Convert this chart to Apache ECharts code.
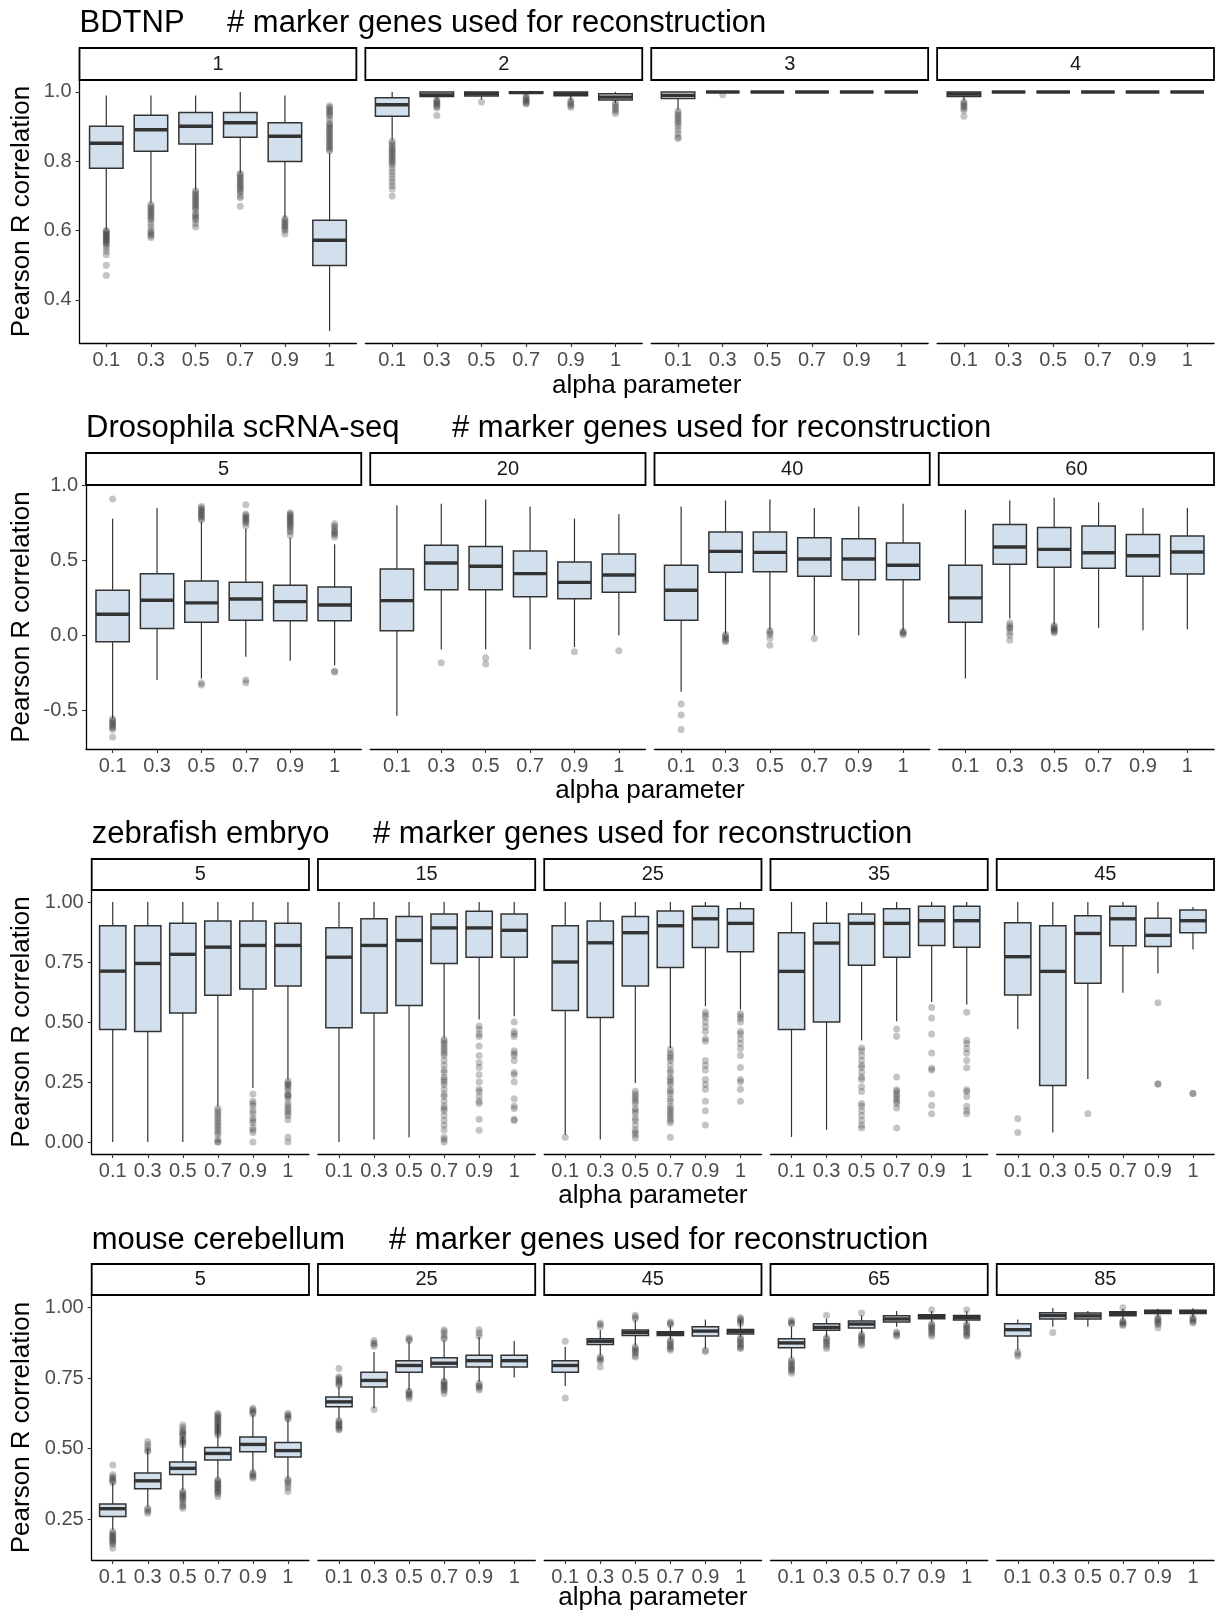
<!DOCTYPE html>
<html>
<head>
<meta charset="utf-8">
<script src="https://cdn.jsdelivr.net/npm/echarts@6.0.0/dist/echarts.min.js"></script>
<style>
  html, body { margin: 0; padding: 0; background: #ffffff; }
  #chart { width: 1215px; height: 1614px; }
</style>
</head>
<body>
<div id="chart"></div>
<script>
// alpha values on every x axis
const ALPHA = ['0.1', '0.3', '0.5', '0.7', '0.9', '1'];

// Each box: [lower whisker, Q1, median, Q3, upper whisker], one per alpha value.
// Outliers: one list of values per alpha value.

// ---- BDTNP ----
const bdtnpPanels = ['1', '2', '3', '4'];
const bdtnpTicks = [0.4, 0.6, 0.8, 1.0];
const bdtnpBoxes = [
  [[0.603, 0.780, 0.852, 0.901, 0.990], [0.680, 0.829, 0.891, 0.933, 0.990], [0.718, 0.850, 0.901, 0.941, 0.990],
   [0.766, 0.869, 0.911, 0.941, 1.000], [0.637, 0.799, 0.872, 0.911, 0.990], [0.310, 0.499, 0.572, 0.630, 0.824]],
  [[0.862, 0.930, 0.963, 0.983, 1.000], [0.980, 0.987, 0.991, 1.000, 1.000], [0.978, 0.988, 0.995, 1.000, 1.000],
   [0.990, 0.996, 0.998, 1.000, 1.000], [0.975, 0.989, 0.994, 1.000, 1.000], [0.968, 0.977, 0.985, 0.995, 1.000]],
  [[0.949, 0.981, 0.990, 1.000, 1.000], [1, 1, 1, 1, 1], [1, 1, 1, 1, 1],
   [1, 1, 1, 1, 1], [1, 1, 1, 1, 1], [1, 1, 1, 1, 1]],
  [[0.975, 0.987, 0.994, 1.000, 1.000], [1, 1, 1, 1, 1], [1, 1, 1, 1, 1],
   [1, 1, 1, 1, 1], [1, 1, 1, 1, 1], [1, 1, 1, 1, 1]]
];
const bdtnpOutliers = [
  [[0.600, 0.597, 0.594, 0.590, 0.587, 0.583, 0.580, 0.577, 0.573, 0.570, 0.566, 0.562, 0.558, 0.550, 0.540, 0.530, 0.500, 0.470],
   [0.675, 0.670, 0.665, 0.660, 0.655, 0.650, 0.645, 0.640, 0.635, 0.630, 0.620, 0.610, 0.600, 0.595, 0.590, 0.585, 0.580],
   [0.715, 0.710, 0.705, 0.700, 0.695, 0.690, 0.685, 0.680, 0.675, 0.670, 0.665, 0.660, 0.650, 0.645, 0.640, 0.635, 0.630, 0.620, 0.610],
   [0.765, 0.760, 0.755, 0.750, 0.745, 0.740, 0.735, 0.730, 0.725, 0.720, 0.715, 0.710, 0.700, 0.695, 0.670],
   [0.635, 0.630, 0.625, 0.620, 0.615, 0.610, 0.605, 0.600, 0.590],
   [0.960, 0.955, 0.950, 0.945, 0.940, 0.935, 0.930, 0.920, 0.910, 0.905, 0.900, 0.895, 0.890, 0.885, 0.880, 0.875, 0.870, 0.865, 0.860, 0.855, 0.850, 0.845, 0.840, 0.835, 0.830]],
  [[0.858, 0.852, 0.846, 0.840, 0.835, 0.830, 0.825, 0.820, 0.815, 0.810, 0.805, 0.800, 0.795, 0.790, 0.780, 0.770, 0.760, 0.750, 0.740, 0.730, 0.720, 0.700],
   [0.978, 0.974, 0.970, 0.966, 0.962, 0.958, 0.954, 0.932],
   [0.971],
   [0.988, 0.984, 0.980, 0.976, 0.972, 0.968, 0.965],
   [0.975, 0.970, 0.965, 0.960, 0.956],
   [0.968, 0.962, 0.956, 0.950, 0.944, 0.938]],
  [[0.944, 0.938, 0.932, 0.926, 0.920, 0.914, 0.908, 0.900, 0.890, 0.880, 0.870, 0.866],
   [0.992], [], [], [], []],
  [[0.972, 0.967, 0.962, 0.957, 0.952, 0.947, 0.930],
   [], [], [], [], []]
];

// ---- Drosophila scRNA-seq ----
const drosoPanels = ['5', '20', '40', '60'];
const drosoTicks = [-0.5, 0.0, 0.5, 1.0];
const drosoBoxes = [
  [[-0.556, -0.044, 0.140, 0.300, 0.778], [-0.300, 0.044, 0.233, 0.411, 0.849], [-0.289, 0.087, 0.216, 0.362, 0.756],
   [-0.144, 0.100, 0.242, 0.353, 0.711], [-0.171, 0.096, 0.224, 0.333, 0.651], [-0.200, 0.096, 0.202, 0.322, 0.607]],
  [[-0.538, 0.029, 0.231, 0.442, 0.867], [-0.096, 0.304, 0.482, 0.600, 0.878], [-0.096, 0.304, 0.460, 0.593, 0.907],
   [-0.096, 0.256, 0.411, 0.562, 0.860], [-0.080, 0.244, 0.353, 0.489, 0.778], [0.000, 0.287, 0.402, 0.542, 0.807]],
  [[-0.378, 0.100, 0.300, 0.467, 0.860], [0.011, 0.420, 0.560, 0.689, 0.900], [0.038, 0.424, 0.553, 0.689, 0.907],
   [0.000, 0.393, 0.509, 0.651, 0.849], [0.000, 0.371, 0.509, 0.644, 0.860], [0.033, 0.371, 0.467, 0.616, 0.878]],
  [[-0.289, 0.087, 0.249, 0.467, 0.838], [0.111, 0.473, 0.589, 0.740, 0.900], [0.073, 0.453, 0.573, 0.720, 0.918],
   [0.049, 0.447, 0.551, 0.729, 0.887], [0.033, 0.393, 0.531, 0.673, 0.849], [0.040, 0.409, 0.556, 0.662, 0.849]]
];
const drosoOutliers = [
  [[0.909, -0.560, -0.570, -0.580, -0.590, -0.600, -0.610, -0.620, -0.630, -0.680],
   [],
   [0.860, 0.850, 0.840, 0.830, 0.820, 0.810, 0.800, 0.790, 0.780, 0.770, -0.320, -0.333],
   [0.871, 0.810, 0.800, 0.790, 0.780, 0.770, 0.760, 0.750, 0.730, -0.300, -0.318],
   [0.818, 0.810, 0.800, 0.790, 0.780, 0.770, 0.760, 0.750, 0.740, 0.730, 0.720, 0.700, 0.690, 0.667],
   [0.744, 0.730, 0.720, 0.700, 0.690, 0.680, 0.670, 0.656, -0.240, -0.245]],
  [[], [-0.184], [-0.151, -0.193], [], [-0.111], [-0.104]],
  [[-0.460, -0.533, -0.629],
   [0.005, -0.005, -0.015, -0.025, -0.035, -0.044],
   [0.030, 0.020, 0.005, -0.020, -0.067],
   [-0.022],
   [],
   [0.025, 0.020, 0.012, 0.003]],
  [[],
   [0.082, 0.065, 0.050, 0.044, 0.020, 0.000, -0.033],
   [0.064, 0.055, 0.048, 0.040, 0.032, 0.025, 0.016],
   [], [], []]
];

// ---- zebrafish embryo ----
const zebraPanels = ['5', '15', '25', '35', '45'];
const zebraTicks = [0.0, 0.25, 0.5, 0.75, 1.0];
const zebraBoxes = [
  [[0.000, 0.469, 0.712, 0.901, 1.000], [0.000, 0.460, 0.744, 0.901, 1.000], [0.000, 0.538, 0.782, 0.911, 1.000],
   [0.149, 0.611, 0.812, 0.921, 1.000], [0.225, 0.638, 0.819, 0.921, 1.000], [0.260, 0.650, 0.819, 0.911, 1.000]],
  [[0.000, 0.476, 0.770, 0.893, 1.000], [0.010, 0.538, 0.819, 0.930, 1.000], [0.020, 0.569, 0.840, 0.940, 1.000],
   [0.434, 0.744, 0.892, 0.950, 1.000], [0.510, 0.770, 0.892, 0.961, 1.000], [0.524, 0.770, 0.882, 0.950, 1.000]],
  [[0.030, 0.548, 0.750, 0.901, 1.000], [0.010, 0.519, 0.830, 0.921, 1.000], [0.246, 0.650, 0.872, 0.940, 1.000],
   [0.392, 0.727, 0.901, 0.962, 1.000], [0.566, 0.810, 0.930, 0.982, 1.000], [0.552, 0.793, 0.911, 0.972, 1.000]],
  [[0.021, 0.469, 0.711, 0.872, 1.000], [0.051, 0.500, 0.829, 0.911, 1.000], [0.423, 0.736, 0.911, 0.950, 1.000],
   [0.503, 0.770, 0.911, 0.972, 1.000], [0.583, 0.819, 0.922, 0.982, 1.000], [0.573, 0.811, 0.922, 0.982, 1.000]],
  [[0.471, 0.613, 0.772, 0.914, 1.000], [0.040, 0.235, 0.711, 0.901, 1.000], [0.263, 0.661, 0.869, 0.943, 1.000],
   [0.622, 0.818, 0.930, 0.982, 1.000], [0.702, 0.815, 0.861, 0.932, 1.000], [0.802, 0.872, 0.922, 0.967, 0.979]]
];
const zebraOutliers = [
  [[], [], [],
   [0.140, 0.130, 0.120, 0.110, 0.100, 0.090, 0.080, 0.070, 0.060, 0.050, 0.040, 0.030, 0.010, 0.000, 0.000],
   [0.200, 0.170, 0.160, 0.150, 0.130, 0.120, 0.100, 0.090, 0.080, 0.060, 0.050, 0.040, 0.000],
   [0.253, 0.245, 0.240, 0.235, 0.225, 0.215, 0.200, 0.195, 0.190, 0.180, 0.160, 0.150, 0.140, 0.130, 0.120, 0.110, 0.093, 0.020, 0.000]],
  [[], [], [],
   [0.427, 0.420, 0.410, 0.400, 0.390, 0.380, 0.370, 0.360, 0.340, 0.320, 0.300, 0.290, 0.270, 0.260, 0.250, 0.240, 0.220, 0.200, 0.190, 0.170, 0.150, 0.140, 0.130, 0.110, 0.090, 0.070, 0.050, 0.020, 0.010, 0.000],
   [0.483, 0.470, 0.450, 0.440, 0.400, 0.360, 0.330, 0.310, 0.280, 0.250, 0.220, 0.210, 0.190, 0.170, 0.160, 0.095, 0.049],
   [0.500, 0.460, 0.450, 0.440, 0.380, 0.370, 0.360, 0.340, 0.290, 0.280, 0.250, 0.180, 0.150, 0.140, 0.095, 0.090]],
  [[0.020], [],
   [0.211, 0.200, 0.190, 0.180, 0.170, 0.160, 0.140, 0.130, 0.120, 0.100, 0.090, 0.070, 0.050, 0.040, 0.030, 0.017],
   [0.385, 0.370, 0.360, 0.350, 0.340, 0.320, 0.300, 0.290, 0.270, 0.260, 0.250, 0.240, 0.220, 0.210, 0.200, 0.180, 0.170, 0.150, 0.140, 0.130, 0.120, 0.110, 0.100, 0.090, 0.080, 0.020],
   [0.542, 0.530, 0.520, 0.500, 0.480, 0.460, 0.430, 0.420, 0.340, 0.320, 0.300, 0.260, 0.240, 0.220, 0.170, 0.130, 0.071],
   [0.535, 0.525, 0.515, 0.500, 0.460, 0.450, 0.430, 0.410, 0.390, 0.360, 0.310, 0.260, 0.250, 0.220, 0.170]],
  [[], [],
   [0.392, 0.380, 0.360, 0.340, 0.320, 0.310, 0.290, 0.270, 0.260, 0.230, 0.210, 0.160, 0.150, 0.130, 0.110, 0.090, 0.070, 0.058],
   [0.471, 0.441, 0.271, 0.218, 0.210, 0.200, 0.190, 0.180, 0.170, 0.160, 0.142, 0.058],
   [0.560, 0.517, 0.450, 0.371, 0.307, 0.300, 0.200, 0.152, 0.118],
   [0.541, 0.424, 0.410, 0.390, 0.370, 0.340, 0.309, 0.218, 0.210, 0.190, 0.149, 0.130, 0.118]],
  [[0.097, 0.040], [], [0.118], [], [0.580, 0.242, 0.242], [0.202, 0.202]]
];

// ---- mouse cerebellum ----
const mousePanels = ['5', '25', '45', '65', '85'];
const mouseTicks = [0.25, 0.5, 0.75, 1.0];
const mouseBoxes = [
  [[0.212, 0.259, 0.287, 0.304, 0.377], [0.295, 0.358, 0.386, 0.414, 0.500], [0.354, 0.408, 0.430, 0.453, 0.542],
   [0.395, 0.460, 0.483, 0.504, 0.590], [0.419, 0.489, 0.515, 0.541, 0.619], [0.395, 0.470, 0.493, 0.522, 0.601]],
  [[0.607, 0.649, 0.666, 0.683, 0.719], [0.643, 0.719, 0.742, 0.771, 0.843], [0.708, 0.771, 0.795, 0.812, 0.879],
   [0.743, 0.790, 0.803, 0.822, 0.884], [0.737, 0.790, 0.812, 0.831, 0.896], [0.752, 0.790, 0.812, 0.831, 0.882]],
  [[0.722, 0.771, 0.795, 0.812, 0.861], [0.831, 0.869, 0.881, 0.890, 0.920], [0.867, 0.901, 0.912, 0.921, 0.955],
   [0.887, 0.901, 0.908, 0.915, 0.937], [0.855, 0.900, 0.917, 0.932, 0.958], [0.896, 0.907, 0.916, 0.923, 0.958]],
  [[0.820, 0.858, 0.875, 0.890, 0.932], [0.896, 0.920, 0.930, 0.943, 0.961], [0.908, 0.928, 0.942, 0.953, 0.973],
   [0.932, 0.949, 0.960, 0.971, 0.988], [0.949, 0.961, 0.968, 0.975, 0.988], [0.943, 0.956, 0.965, 0.972, 0.988]],
  [[0.849, 0.900, 0.922, 0.943, 0.958], [0.932, 0.960, 0.972, 0.982, 0.999], [0.932, 0.960, 0.971, 0.981, 0.988],
   [0.958, 0.971, 0.980, 0.986, 0.996], [0.967, 0.979, 0.986, 0.991, 0.996], [0.967, 0.979, 0.986, 0.991, 0.998]]
];
const mouseOutliers = [
  [[0.442, 0.407, 0.400, 0.395, 0.390, 0.385, 0.380, 0.206, 0.200, 0.195, 0.190, 0.185, 0.180, 0.175, 0.170, 0.165, 0.160, 0.147],
   [0.525, 0.515, 0.505, 0.495, 0.490, 0.289, 0.283, 0.277, 0.271],
   [0.584, 0.575, 0.565, 0.560, 0.555, 0.550, 0.545, 0.535, 0.530, 0.525, 0.520, 0.513, 0.348, 0.343, 0.338, 0.333, 0.328, 0.323, 0.318, 0.310, 0.300, 0.295, 0.289],
   [0.625, 0.620, 0.615, 0.610, 0.605, 0.600, 0.595, 0.590, 0.585, 0.580, 0.575, 0.570, 0.565, 0.560, 0.555, 0.548, 0.389, 0.385, 0.380, 0.375, 0.370, 0.365, 0.360, 0.355, 0.350, 0.345, 0.340, 0.330],
   [0.643, 0.638, 0.633, 0.628, 0.623, 0.415, 0.410, 0.405, 0.400, 0.395],
   [0.625, 0.620, 0.615, 0.610, 0.605, 0.391, 0.385, 0.380, 0.370, 0.360, 0.348]],
  [[0.784, 0.755, 0.750, 0.745, 0.740, 0.735, 0.730, 0.725, 0.600, 0.595, 0.590, 0.585, 0.580, 0.575, 0.570, 0.566],
   [0.884, 0.875, 0.870, 0.863, 0.639],
   [0.893, 0.888, 0.884, 0.704, 0.700, 0.695, 0.690, 0.685, 0.678],
   [0.922, 0.915, 0.905, 0.895, 0.890, 0.740, 0.735, 0.730, 0.725, 0.720, 0.715, 0.710, 0.705, 0.696],
   [0.922, 0.910, 0.900, 0.731, 0.725, 0.720, 0.715, 0.708],
   []],
  [[0.881, 0.680],
   [0.946, 0.940, 0.932, 0.825, 0.820, 0.815, 0.810, 0.790],
   [0.973, 0.967, 0.961, 0.861, 0.855, 0.850, 0.845, 0.840, 0.830, 0.825],
   [0.949, 0.945, 0.940, 0.884, 0.878, 0.872, 0.866, 0.860, 0.855, 0.849],
   [0.849, 0.845],
   [0.965, 0.960, 0.955, 0.950, 0.943, 0.894, 0.888, 0.882, 0.876, 0.870, 0.864, 0.858, 0.855]],
  [[0.955, 0.950, 0.945, 0.943, 0.814, 0.808, 0.802, 0.796, 0.790, 0.785, 0.780, 0.775, 0.767],
   [0.973, 0.894, 0.888, 0.882, 0.876, 0.870, 0.862, 0.855],
   [0.981, 0.906, 0.900, 0.895, 0.890, 0.885, 0.880, 0.873, 0.867],
   [0.914, 0.908, 0.903, 0.899],
   [0.993, 0.943, 0.938, 0.933, 0.928, 0.923, 0.918, 0.912, 0.906, 0.899],
   [0.993, 0.941, 0.936, 0.931, 0.926, 0.920, 0.914, 0.908, 0.902, 0.899]],
  [[0.843, 0.835, 0.828],
   [0.912],
   [],
   [1.000, 0.953, 0.949, 0.945, 0.941, 0.937],
   [0.965, 0.960, 0.955, 0.950, 0.945, 0.940, 0.929],
   [0.965, 0.960, 0.955, 0.950, 0.946]]
];

// ---- page layout (pixels) ----
const FONT = '"Liberation Sans", Arial, Helvetica, sans-serif';
const GAP = 9;
const RIGHT = 1214;
const ROWS = [
  { name: 'BDTNP', panels: bdtnpPanels, boxes: bdtnpBoxes, outliers: bdtnpOutliers, ticks: bdtnpTicks, digits: 1,
    yMin: 0.2755, yMax: 1.0345, left: 79.5, stripTop: 48, plotTop: 80, plotBottom: 343,
    titleY: 23, hashX: 227, xTitleY: 386 },
  { name: 'Drosophila scRNA-seq', panels: drosoPanels, boxes: drosoBoxes, outliers: drosoOutliers, ticks: drosoTicks, digits: 1,
    yMin: -0.76, yMax: 1.003, left: 86, stripTop: 453, plotTop: 485, plotBottom: 749,
    titleY: 428, hashX: 452, xTitleY: 791 },
  { name: 'zebrafish embryo', panels: zebraPanels, boxes: zebraBoxes, outliers: zebraOutliers, ticks: zebraTicks, digits: 2,
    yMin: -0.05, yMax: 1.05, left: 91.7, stripTop: 859, plotTop: 890, plotBottom: 1154,
    titleY: 834, hashX: 373, xTitleY: 1196 },
  { name: 'mouse cerebellum', panels: mousePanels, boxes: mouseBoxes, outliers: mouseOutliers, ticks: mouseTicks, digits: 2,
    yMin: 0.105, yMax: 1.045, left: 91.7, stripTop: 1264, plotTop: 1295, plotBottom: 1560,
    titleY: 1240, hashX: 389, xTitleY: 1598 }
];

const BOX_FILL = '#d1e0ec';
const INK = '#333333';

// Box, whiskers and a heavy median line, placed through the axis scales.
function renderBox(params, api) {
  const i = api.value(0);
  const lo = api.coord([i, api.value(1)]);
  const q1 = api.coord([i, api.value(2)]);
  const md = api.coord([i, api.value(3)]);
  const q3 = api.coord([i, api.value(4)]);
  const hi = api.coord([i, api.value(5)]);
  const bw = api.size([1, 0])[0] * 0.75;
  const x = lo[0];
  const lineStyle = { stroke: INK, lineWidth: 1.2 };
  return {
    type: 'group',
    children: [
      { type: 'line', shape: { x1: x, y1: hi[1], x2: x, y2: q3[1] }, style: lineStyle },
      { type: 'line', shape: { x1: x, y1: q1[1], x2: x, y2: lo[1] }, style: lineStyle },
      { type: 'rect', shape: { x: x - bw / 2, y: q3[1], width: bw, height: q1[1] - q3[1] },
        style: { fill: BOX_FILL, stroke: INK, lineWidth: 1.5 } },
      { type: 'line', shape: { x1: x - bw / 2, y1: md[1], x2: x + bw / 2, y2: md[1] },
        style: { stroke: INK, lineWidth: 3.4 } }
    ]
  };
}

const grids = [], xAxes = [], yAxes = [], series = [], graphics = [];
const catIdx = ALPHA.map((_, i) => i);

ROWS.forEach(row => {
  const n = row.panels.length;
  const w = (RIGHT - row.left - GAP * (n - 1)) / n;
  const h = row.plotBottom - row.plotTop;

  row.panels.forEach((label, p) => {
    const gi = grids.length;
    const x0 = row.left + p * (w + GAP);
    const first = p === 0;

    grids.push({ left: x0, top: row.plotTop, width: w, height: h, containLabel: false, outerBoundsMode: 'none' });

    xAxes.push({
      gridIndex: gi, type: 'value', min: -0.6, max: 5.6,
      splitLine: { show: false },
      axisLine: { show: true, onZero: false, lineStyle: { color: '#000000', width: 1.3 } },
      axisTick: { show: true, customValues: catIdx, length: 4, lineStyle: { color: INK, width: 1.1 } },
      axisLabel: {
        show: true, customValues: catIdx, formatter: v => ALPHA[Math.round(v)],
        color: '#4d4d4d', fontSize: 20, fontFamily: FONT, margin: 7
      }
    });

    yAxes.push({
      gridIndex: gi, type: 'value', min: row.yMin, max: row.yMax,
      show: first,
      splitLine: { show: false },
      axisLine: { show: first, onZero: false, lineStyle: { color: '#000000', width: 1.3 } },
      axisTick: { show: first, customValues: row.ticks, length: 4, lineStyle: { color: INK, width: 1.1 } },
      axisLabel: {
        show: first, customValues: row.ticks, formatter: v => Number(v).toFixed(row.digits),
        color: '#4d4d4d', fontSize: 20, fontFamily: FONT, margin: 8
      }
    });

    series.push({
      type: 'scatter', xAxisIndex: gi, yAxisIndex: gi, z: 2, silent: true,
      symbol: 'circle', symbolSize: 7,
      itemStyle: { color: 'rgba(51,51,51,0.36)' },
      data: row.outliers[p].flatMap((vals, i) => vals.map(v => [i, v]))
    });

    series.push({
      type: 'custom', xAxisIndex: gi, yAxisIndex: gi, z: 3, silent: true,
      renderItem: renderBox,
      encode: { x: 0, y: [1, 2, 3, 4, 5] },
      data: row.boxes[p].map((b, i) => [i].concat(b))
    });

    // facet strip
    graphics.push({
      type: 'rect', silent: true,
      shape: { x: x0, y: row.stripTop, width: w, height: row.plotTop - row.stripTop },
      style: { fill: '#ffffff', stroke: '#000000', lineWidth: 1.8 }
    });
    graphics.push({
      type: 'text', silent: true,
      x: x0 + w / 2, y: (row.stripTop + row.plotTop) / 2,
      style: { text: label, fill: '#1a1a1a', fontSize: 20, fontFamily: FONT, align: 'center', verticalAlign: 'middle' }
    });
  });

  // row title
  graphics.push({
    type: 'text', silent: true, x: row.left, y: row.titleY,
    style: { text: row.name, fill: '#000000', fontSize: 31, fontFamily: FONT, align: 'left', verticalAlign: 'middle' }
  });
  graphics.push({
    type: 'text', silent: true, x: row.hashX, y: row.titleY,
    style: { text: '# marker genes used for reconstruction', fill: '#000000', fontSize: 31, fontFamily: FONT, align: 'left', verticalAlign: 'middle' }
  });
  // axis titles
  graphics.push({
    type: 'text', silent: true, x: (row.left + RIGHT) / 2, y: row.xTitleY,
    style: { text: 'alpha parameter', fill: '#000000', fontSize: 26, fontFamily: FONT, align: 'center', verticalAlign: 'middle' }
  });
  graphics.push({
    type: 'text', silent: true, x: 22, y: (row.plotTop + row.plotBottom) / 2, rotation: Math.PI / 2,
    style: { text: 'Pearson R correlation', fill: '#000000', fontSize: 26, fontFamily: FONT, align: 'center', verticalAlign: 'middle' }
  });
});

const chart = echarts.init(document.getElementById('chart'), null, { renderer: 'canvas' });
chart.setOption({
  backgroundColor: '#ffffff',
  animation: false,
  grid: grids,
  xAxis: xAxes,
  yAxis: yAxes,
  series: series,
  graphic: { elements: graphics }
});
</script>
</body>
</html>
